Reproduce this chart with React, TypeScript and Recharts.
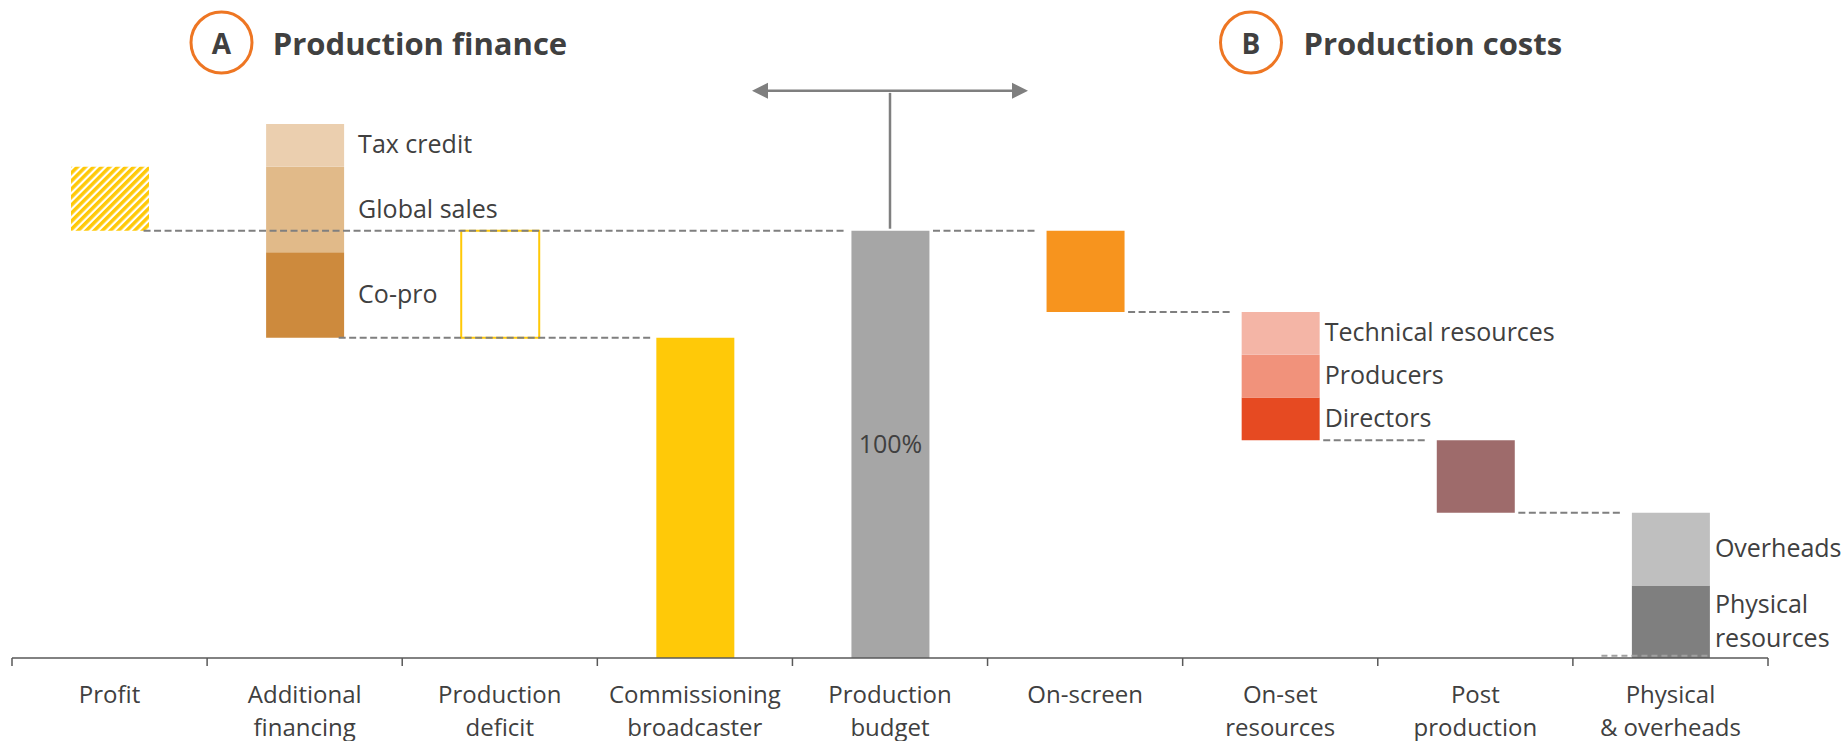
import React from 'react';
import { BarChart, Bar, XAxis, YAxis, Cell, LabelList, ReferenceLine } from 'recharts';

// ---------- data ----------
const categories = [
  'Profit',
  'Additional financing',
  'Production deficit',
  'Commissioning broadcaster',
  'Production budget',
  'On-screen',
  'On-set resources',
  'Post production',
  'Physical & overheads',
];
const tickLabels = [
  ['Profit'],
  ['Additional', 'financing'],
  ['Production', 'deficit'],
  ['Commissioning', 'broadcaster'],
  ['Production', 'budget'],
  ['On-screen'],
  ['On-set', 'resources'],
  ['Post', 'production'],
  ['Physical', '& overheads'],
];

// invisible base of each waterfall step (% of budget)
const baseValues = [100, 75, 75, 0, 0, 81, 51, 34, 0];
// stacked segments, bottom to top
const layer1Values = [15, 20, 25, 75, 100, 19, 10, 17, 17];
const layer2Values = [0, 20, 0, 0, 0, 0, 10, 0, 17];
const layer3Values = [0, 10, 0, 0, 0, 0, 10, 0, 0];

const layer1Labels = ['', 'Co-pro', '', '', '', '', 'Directors', '', 'Physical\nresources'];
const layer2Labels = ['', 'Global sales', '', '', '', '', 'Producers', '', 'Overheads'];
const layer3Labels = ['', 'Tax credit', '', '', '', '', 'Technical resources', '', ''];
const insideLabels = ['', '', '', '', '100%', '', '', '', ''];

// dashed connectors: from bar (right edge) to bar (left edge) at a level
const connectorFrom = [0, 1, 4, 5, 6, 7];
const connectorTo = [4, 3, 5, 6, 7, 8];
const connectorLevel = [100, 75, 100, 81, 51, 34];

// budget bracket annotation levels
const bracketBottom = 100.5;
const bracketTop = 132.8;

// ---------- styles ----------
const YELLOW = '#FFC908';
const layer1Colors = ['url(#profitHatch)', '#CD8A3D', '#FFFFFF', YELLOW, '#A6A6A6', '#F7941E', '#E64A22', '#9E6B6B', '#7F7F7F'];
const layer2Colors = ['none', '#E1BA89', 'none', 'none', 'none', 'none', '#F1927B', 'none', '#BFBFBF'];
const layer3Colors = ['none', '#EBCFAF', 'none', 'none', 'none', 'none', '#F4B5A6', 'none', 'none'];

const W = 1848;
const H = 741;
const MARGIN = { top: 60, right: 80, bottom: 0, left: 12 };
const N = categories.length;
const BAND = (W - MARGIN.left - MARGIN.right) / N;
const BAR = 78;
const FONT = "'Open Sans', sans-serif";
const TEXT = '#404040';
const AXIS = '#595959';
const DASH = '#7F7F7F';

const data = categories.map((name, i) => ({
  name,
  base: baseValues[i],
  l1: layer1Values[i],
  l2: layer2Values[i],
  l3: layer3Values[i],
}));

function getBox(props: any) {
  const vb = props.viewBox || {};
  return {
    x: Number(vb.x ?? props.x),
    y: Number(vb.y ?? props.y),
    width: Number(vb.width ?? props.width),
    height: Number(vb.height ?? props.height),
  };
}

const sideLabel = (labels: string[]) => (props: any) => {
  const idx = categories.indexOf(String(props.value));
  const text = labels[idx];
  if (!text) return null;
  const { x, y, width, height } = getBox(props);
  const gap = idx < 4 ? 14 : 5;
  const lines = text.split('\n');
  const lh = 34;
  const cy = y + height / 2 + 8 - ((lines.length - 1) * lh) / 2;
  return (
    <text x={x + width + gap} y={cy} fontSize={25} fill={TEXT} fontFamily={FONT}>
      {lines.map((l, k) => (
        <tspan key={k} x={x + width + gap} dy={k === 0 ? 0 : lh}>
          {l}
        </tspan>
      ))}
    </text>
  );
};

const insideLabel = (props: any) => {
  const idx = categories.indexOf(String(props.value));
  const text = insideLabels[idx];
  if (!text) return null;
  const { x, y, width, height } = getBox(props);
  return (
    <text x={x + width / 2} y={y + height / 2 + 9} textAnchor="middle" fontSize={25} fill={TEXT} fontFamily={FONT}>
      {text}
    </text>
  );
};

function CategoryTick(props: any) {
  const { x, y, payload } = props;
  const idx = categories.indexOf(payload.value);
  const lines = tickLabels[idx] || [String(payload.value)];
  const half = BAND / 2;
  return (
    <g>
      <line x1={x - half} x2={x - half} y1={y} y2={y + 8} stroke={AXIS} strokeWidth={1.5} />
      {idx === N - 1 && <line x1={x + half} x2={x + half} y1={y} y2={y + 8} stroke={AXIS} strokeWidth={1.5} />}
      <text x={x} y={y + 45} textAnchor="middle" fontSize={24} fill={TEXT} fontFamily={FONT}>
        {lines.map((l, k) => (
          <tspan key={k} x={x} dy={k === 0 ? 0 : 33.4}>
            {l}
          </tspan>
        ))}
      </text>
    </g>
  );
}

// connector drawn from right edge of one bar to left edge of another (x1/x2 are band centres)
const connectorShape = (startGap: number, endGap: number) => (p: any) => (
  <line
    x1={p.x1 + BAR / 2 + startGap}
    x2={p.x2 - BAR / 2 - endGap}
    y1={p.y1}
    y2={p.y2}
    stroke={DASH}
    strokeWidth={2}
    strokeDasharray="7 3.5"
  />
);

const baseDashShape = (p: any) => (
  <line x1={p.x1 - BAR / 2 - 30} x2={p.x1 + BAR / 2} y1={p.y1} y2={p.y1} stroke="#A0A0A0" strokeWidth={2} strokeDasharray="6 4" />
);

const vertShape = (p: any) => <line x1={p.x1} x2={p.x2} y1={p.y1} y2={p.y2} stroke={DASH} strokeWidth={2.5} />;

function ArrowShape(p: any) {
  const half = 138;
  const head = 16;
  const hw = 8;
  const cx = p.x1;
  const y = p.y1;
  const xa = cx - half;
  const xb = cx + half;
  return (
    <g>
      <line x1={xa + head} y1={y} x2={xb - head} y2={y} stroke={DASH} strokeWidth={2.5} />
      <polygon points={`${xa},${y} ${xa + head},${y - hw} ${xa + head},${y + hw}`} fill={DASH} />
      <polygon points={`${xb},${y} ${xb - head},${y - hw} ${xb - head},${y + hw}`} fill={DASH} />
    </g>
  );
}

export default function App() {
  return (
    <div style={{ position: 'absolute', left: 0, top: 0, width: W, height: H, background: '#fff', fontFamily: FONT }}>
      <svg width={0} height={0} style={{ position: 'absolute' }}>
        <defs>
          <pattern id="profitHatch" patternUnits="userSpaceOnUse" width={5.7} height={5.7} patternTransform="rotate(45)">
            <rect x={0} y={0} width={5.7} height={5.7} fill="#FFFFFF" />
            <rect x={0} y={0} width={3.5} height={5.7} fill={YELLOW} />
          </pattern>
        </defs>
      </svg>
      <BarChart width={W} height={H} data={data} margin={MARGIN} barSize={BAR}>
        <XAxis
          xAxisId="cat"
          dataKey="name"
          height={83}
          tickSize={0}
          tickMargin={0}
          tickLine={false}
          interval={0}
          axisLine={{ stroke: AXIS, strokeWidth: 1.5 }}
          tick={<CategoryTick />}
        />
        <YAxis hide domain={[0, 140]} allowDataOverflow />
        <Bar xAxisId="cat" dataKey="base" stackId="w" fill="transparent" isAnimationActive={false} />
        <Bar xAxisId="cat" dataKey="l1" stackId="w" isAnimationActive={false}>
          {data.map((_, i) => (
            <Cell key={i} fill={layer1Colors[i]} stroke={i === 2 ? YELLOW : 'none'} strokeWidth={i === 2 ? 2 : 0} />
          ))}
          <LabelList dataKey="name" content={sideLabel(layer1Labels)} />
          <LabelList dataKey="name" content={insideLabel} />
        </Bar>
        <Bar xAxisId="cat" dataKey="l2" stackId="w" isAnimationActive={false}>
          {data.map((_, i) => (
            <Cell key={i} fill={layer2Colors[i]} />
          ))}
          <LabelList dataKey="name" content={sideLabel(layer2Labels)} />
        </Bar>
        <Bar xAxisId="cat" dataKey="l3" stackId="w" isAnimationActive={false}>
          {data.map((_, i) => (
            <Cell key={i} fill={layer3Colors[i]} />
          ))}
          <LabelList dataKey="name" content={sideLabel(layer3Labels)} />
        </Bar>
        {connectorFrom.map((f, k) => (
          <ReferenceLine
            key={`c${k}`}
            xAxisId="cat"
            segment={[
              { x: categories[f], y: connectorLevel[k] },
              { x: categories[connectorTo[k]], y: connectorLevel[k] },
            ]}
            ifOverflow="visible"
            shape={f < 4 ? connectorShape(-5, 4.5) : connectorShape(4, 9)}
          />
        ))}
        <ReferenceLine
          xAxisId="cat"
          segment={[
            { x: categories[N - 1], y: 0.5 },
            { x: categories[N - 1], y: 0.5 },
          ]}
          ifOverflow="visible"
          shape={baseDashShape}
        />
        <ReferenceLine
          xAxisId="cat"
          segment={[
            { x: categories[4], y: bracketBottom },
            { x: categories[4], y: bracketTop - 0.5 },
          ]}
          ifOverflow="visible"
          shape={vertShape}
        />
        <ReferenceLine
          xAxisId="cat"
          segment={[
            { x: categories[4], y: bracketTop },
            { x: categories[4], y: bracketTop },
          ]}
          ifOverflow="visible"
          shape={ArrowShape}
        />
      </BarChart>
      <svg width={W} height={H} style={{ position: 'absolute', left: 0, top: 0, pointerEvents: 'none' }}>
        <circle cx={221.5} cy={42.5} r={30.5} fill="none" stroke="#EE7623" strokeWidth={3} />
        <text x={221.5} y={54} textAnchor="middle" fontSize={28} fontWeight={700} fill={TEXT} fontFamily={FONT}>
          A
        </text>
        <text x={272.8} y={54.5} fontSize={31} fontWeight={700} fill={TEXT} fontFamily={FONT}>
          Production finance
        </text>
        <circle cx={1251} cy={42.5} r={30.5} fill="none" stroke="#EE7623" strokeWidth={3} />
        <text x={1251} y={54} textAnchor="middle" fontSize={28} fontWeight={700} fill={TEXT} fontFamily={FONT}>
          B
        </text>
        <text x={1303.5} y={54.5} fontSize={31} fontWeight={700} fill={TEXT} fontFamily={FONT}>
          Production costs
        </text>
      </svg>
    </div>
  );
}
